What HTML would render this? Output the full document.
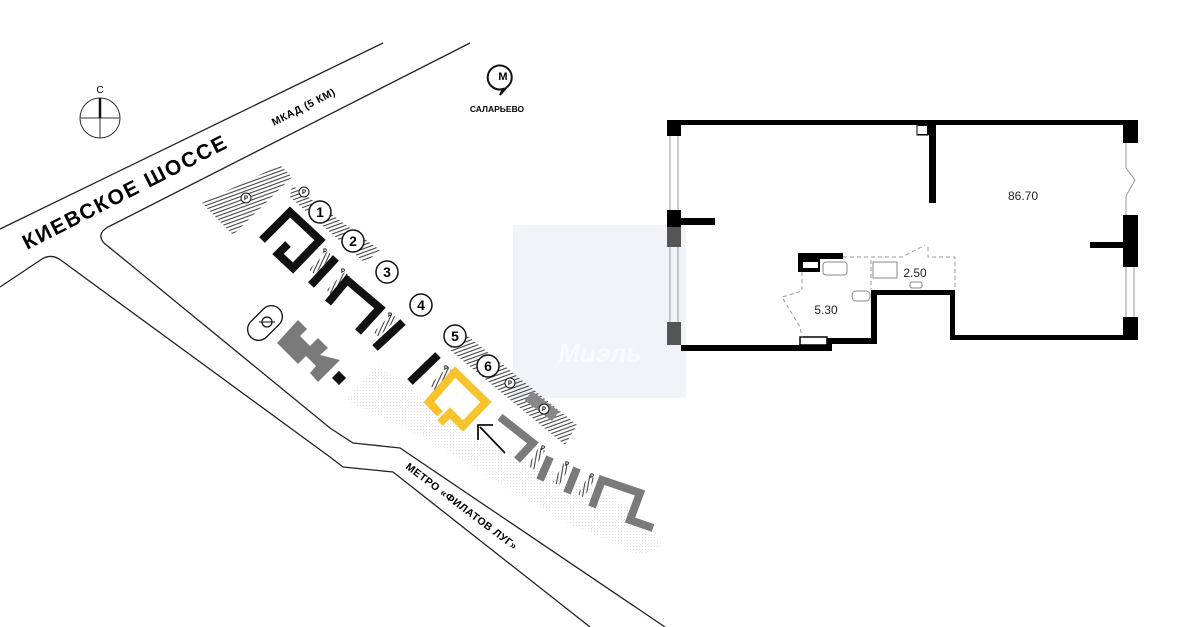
<!DOCTYPE html>
<html><head><meta charset="utf-8"><style>
html,body{margin:0;padding:0;background:#fff}
svg{display:block}
text{font-family:"Liberation Sans",sans-serif}
</style></head><body>
<svg width="1200" height="627" viewBox="0 0 1200 627" xmlns="http://www.w3.org/2000/svg">
<defs>
<pattern id="h" width="3.5" height="3.5" patternUnits="userSpaceOnUse" patternTransform="rotate(-20)"><line x1="0" y1="1" x2="3.5" y2="1" stroke="#444" stroke-width="1.1"/></pattern>
<pattern id="d" width="3" height="3" patternUnits="userSpaceOnUse"><rect width="1" height="1" fill="#ddd"/></pattern>
</defs>
<!-- watermark -->
<rect x="513" y="225" width="173" height="173" fill="#f0f3f7"/>
<text x="600" y="362" font-size="26" font-weight="bold" font-style="italic" fill="#f9fafc" text-anchor="middle">Миэль</text>
<!-- roads -->
<g fill="none" stroke="#222" stroke-width="1.3">
<path d="M0,229 L383,43"/>
<path d="M470,43 L108,227 Q96,234 104,243 L330,428 L353,443 L400,448 L665,627"/>
<path d="M0,287 L42,259 Q52,253 62,261 L330,457 L343,467 L393,472 L590,627"/>
</g>
<!-- compass -->
<circle cx="100" cy="118" r="20" fill="none" stroke="#333" stroke-width="1"/>
<line x1="80" y1="118" x2="120" y2="118" stroke="#333"/>
<line x1="100" y1="98" x2="100" y2="138" stroke="#333"/>
<line x1="100" y1="98" x2="100" y2="118" stroke="#111" stroke-width="2.5"/>
<text x="100" y="93" font-size="10" text-anchor="middle">С</text>
<!-- metro -->
<path d="M503,89 A12,12 0 1 1 507,87 L500,95 Z" fill="none" stroke="#111" stroke-width="2"/>
<text x="503" y="80" font-size="11" font-weight="bold" text-anchor="middle">М</text>
<text x="497" y="112" font-size="8.5" font-weight="bold" text-anchor="middle">САЛАРЬЕВО</text>
<!-- road labels -->
<text transform="translate(27,250) rotate(-27)" font-size="21" font-weight="bold" letter-spacing="1.8">КИЕВСКОЕ ШОССЕ</text>
<text transform="translate(274,126) rotate(-27)" font-size="10.5" font-weight="bold" letter-spacing="0.5">МКАД (5 КМ)</text>
<text transform="translate(405,468) rotate(37)" font-size="10.5" font-weight="bold" letter-spacing="0.5">МЕТРО «ФИЛАТОВ ЛУГ»</text>
<!-- dotted -->
<polygon points="345,400 378,365 480,440 620,500 665,545 640,555 560,520 430,440" fill="url(#d)"/>
<!-- hatch areas -->
<polygon points="202,203 280,165 292,177 233,235" fill="url(#h)"/>
<polygon points="292,185 380,250 365,263 290,197" fill="url(#h)"/>
<polygon points="458,328 577,425 565,445 450,350" fill="url(#h)"/>
<rect x="525" y="400" width="34" height="12" fill="#888" transform="rotate(37 542 406)"/>
<g fill="url(#h)">
<rect x="308" y="260" width="26" height="7" transform="rotate(-45 320 263)"/>
<rect x="325" y="280" width="26" height="7" transform="rotate(-45 338 283)"/>
<rect x="372" y="322" width="26" height="7" transform="rotate(-45 385 325)"/>
<rect x="428" y="375" width="26" height="7" transform="rotate(-45 441 378)"/>
<rect x="525" y="455" width="22" height="7" transform="rotate(-60 536 458)"/>
<rect x="550" y="471" width="22" height="7" transform="rotate(-60 561 474)"/>
<rect x="575" y="483" width="22" height="7" transform="rotate(-60 586 486)"/>
</g>
<!-- black buildings -->
<g fill="none" stroke="#111" stroke-width="8" stroke-linejoin="miter">
<path d="M262,240 L290,212 L320,240 L293,268 L278,254 L288,244"/>
<path d="M311,285 L336,258"/>
<path d="M328,303 L347,280 L380,308 L358,332"/>
<path d="M375,348 L403,322"/>
<path d="M410,382 L438,355"/>
</g>
<rect x="334" y="373" width="10" height="10" fill="#111" transform="rotate(45 339 378)"/>
<!-- yellow -->
<path d="M440,414 L429,402 L455,372 L486,402 L463,426 L450,413 L440,423" fill="none" stroke="#f7c430" stroke-width="8"/>
<!-- grey -->
<g fill="none" stroke="#7a7a7a" stroke-width="8">
<path d="M500,417 L533,443 L517,460"/>
<path d="M540,480 L550,457"/>
<path d="M567,493 L577,468"/>
<path d="M592,507 L602,480 L640,493 L630,520 L653,528"/>
</g>
<polygon points="277,343 298,320 307,329 300,336 310,346 318,338 328,348 320,355 340,360 318,382 310,373 316,366 306,356 298,364" fill="#7a7a7a"/>
<!-- oval -->
<rect x="245" y="312" width="40" height="22" rx="11" fill="none" stroke="#111" stroke-width="1.3" transform="rotate(-45 265 323)"/>
<circle cx="267" cy="322" r="5" fill="none" stroke="#111" stroke-width="1.2"/>
<line x1="259" y1="322" x2="275" y2="322" stroke="#111"/>
<!-- arrow -->
<line x1="505" y1="453" x2="480" y2="427" stroke="#111" stroke-width="1.8"/>
<path d="M478,440 L478,425 L493,425" fill="none" stroke="#111" stroke-width="1.8"/>
<!-- numbers -->
<g fill="#fff" stroke="#111" stroke-width="1.5">
<circle cx="320" cy="212" r="11"/><circle cx="353" cy="241" r="11"/><circle cx="387" cy="272" r="11"/>
<circle cx="421" cy="305" r="11"/><circle cx="455" cy="336" r="11"/><circle cx="488" cy="366" r="11"/>
<circle cx="246" cy="198" r="5" stroke-width="1"/><circle cx="304" cy="192" r="5" stroke-width="1"/>
<circle cx="510" cy="383" r="5" stroke-width="1"/><circle cx="544" cy="409" r="5" stroke-width="1"/>
</g>
<g font-size="14" font-weight="bold" text-anchor="middle">
<text x="320" y="217">1</text><text x="353" y="246">2</text><text x="387" y="277">3</text>
<text x="421" y="310">4</text><text x="455" y="341">5</text><text x="488" y="371">6</text>
</g>
<g font-size="6" font-weight="bold" text-anchor="middle">
<text x="246" y="200">P</text><text x="304" y="194">P</text><text x="510" y="385">P</text><text x="544" y="411">P</text>
<text x="325" y="253">P</text><text x="343" y="273">P</text><text x="390" y="317">P</text><text x="446" y="370">P</text>
<text x="543" y="450">P</text><text x="567" y="466">P</text><text x="592" y="478">P</text>
</g>
<!-- floor plan -->
<g fill="#000">
<rect x="667" y="120" width="471" height="5"/>
<rect x="667" y="120" width="14" height="16"/>
<rect x="667" y="210" width="14" height="17"/>
<rect x="681" y="218" width="34" height="7"/>
<rect x="687" y="345" width="145" height="6"/>
<rect x="827" y="338" width="45" height="6"/>
<rect x="827" y="338" width="5" height="13"/>
<rect x="871" y="290" width="6" height="54"/>
<rect x="871" y="290" width="84" height="5"/>
<rect x="950" y="290" width="5" height="50"/>
<rect x="950" y="335" width="188" height="5"/>
<rect x="1123" y="317" width="15" height="23"/>
<rect x="1123" y="215" width="15" height="52"/>
<rect x="1090" y="242" width="33" height="6"/>
<rect x="1123" y="125" width="15" height="18"/>
<rect x="929" y="125" width="7" height="78"/>
<rect x="918" y="125" width="11" height="10"/>
<rect x="798" y="253" width="45" height="6"/>
<rect x="798" y="253" width="22" height="19"/>
</g>
<rect x="917" y="125" width="11" height="10" fill="none" stroke="#000" stroke-width="1"/>
<rect x="918" y="126" width="9" height="8" fill="#fff"/>
<rect x="803" y="262" width="15" height="6" fill="#fff"/>
<rect x="800" y="337" width="27" height="8" fill="#fff" stroke="#000" stroke-width="1.5"/>
<rect x="667" y="227" width="14" height="20" fill="#555"/>
<rect x="667" y="322" width="14" height="23" fill="#555"/>
<rect x="681" y="345" width="6" height="6" fill="#000"/>
<g stroke="#999" stroke-width="1" fill="none">
<line x1="670" y1="136" x2="670" y2="210"/><line x1="678" y1="136" x2="678" y2="210"/>
<line x1="670" y1="247" x2="670" y2="322"/><line x1="678" y1="247" x2="678" y2="322"/>
<line x1="1126" y1="143" x2="1126" y2="168"/><line x1="1126" y1="196" x2="1126" y2="215"/>
<path d="M1126,168 L1135,180 L1126,196"/>
<line x1="1126" y1="267" x2="1126" y2="317"/><line x1="1134" y1="267" x2="1134" y2="317"/>
</g>
<g stroke="#999" stroke-width="1" fill="none" stroke-dasharray="4,3">
<path d="M843,257 L902,257 L925,245"/>
<path d="M928,247 L928,257 L955,257 L955,290"/>
<path d="M871,260 L871,290"/>
<path d="M802,272 L802,291 L782,297 L800,327 L802,337"/>
</g>
<g stroke="#888" stroke-width="1" fill="#fff">
<rect x="823" y="262" width="24" height="13" rx="3"/>
<rect x="873" y="262" width="24" height="16"/>
<rect x="910" y="282" width="12" height="6" rx="2"/>
<rect x="852" y="291" width="18" height="10" rx="4"/>
</g>
<g font-size="12" fill="#222" text-anchor="middle">
<text x="1023" y="200">86.70</text>
<text x="915" y="277">2.50</text>
<text x="826" y="314">5.30</text>
</g>
</svg>
</body></html>
